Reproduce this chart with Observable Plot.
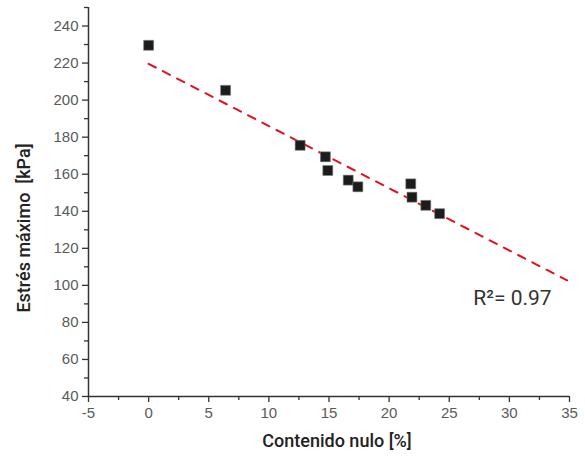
<!DOCTYPE html>
<html>
<head>
<meta charset="utf-8">
<script src="https://cdn.jsdelivr.net/npm/d3@7"></script>
<script src="https://cdn.jsdelivr.net/npm/@observablehq/plot@0.6"></script>
<style>
  html, body { margin: 0; padding: 0; background: #fff; }
</style>
</head>
<body>
<div id="chart"></div>
<script>
// Data
const voidContent = [0, 6.4, 12.6, 14.7, 14.9, 16.6, 17.4, 21.8, 21.9, 23.05, 24.2];
const maxStress   = [229.6, 205.3, 175.6, 169.4, 162.0, 156.8, 153.2, 154.8, 147.6, 143.2, 138.7];

// Fitted line as drawn in the reference (endpoints)
const fitX = [0, 34.8];
const fitY = [219.6, 102.7];

const xTicks = [-5, 0, 5, 10, 15, 20, 25, 30, 35];
const xMinor = [-2.5, 2.5, 7.5, 12.5, 17.5, 22.5, 27.5, 32.5];
const yTicks = [40, 60, 80, 100, 120, 140, 160, 180, 200, 220, 240];
const yMinor = [50, 70, 90, 110, 130, 150, 170, 190, 210, 230, 250];

const xTitle = "Contenido nulo [%]";
const yTitle = "Estrés máximo  [kPa]";
const r2Label = "R²= 0.97";
const r2Pos = {x: 27, y: 93};

const points = voidContent.map((x, i) => ({x, y: maxStress[i]}));
const fit = fitX.map((x, i) => ({x, y: fitY[i]}));

const tickFont = "Liberation Sans, Arial, sans-serif";
const titleFont = "Roboto, sans-serif";

const chart = Plot.plot({
  width: 585,
  height: 460,
  marginLeft: 88,
  marginRight: 16,
  marginTop: 7,
  marginBottom: 64,
  style: {background: "#fff", overflow: "visible"},
  x: {domain: [-5, 35]},
  y: {domain: [40, 250]},
  marks: [
    Plot.axisX(xTicks, {tickSize: 6, tickPadding: 5, fontSize: 15, fontFamily: tickFont, fill: "#5a5a5a", stroke: "#333", strokeWidth: 1.3, tickFormat: d => String(d), label: null}),
    Plot.axisX(xMinor, {tickSize: 4, text: null, stroke: "#333", strokeWidth: 1.3, label: null}),
    Plot.axisY(yTicks, {tickSize: 6, tickPadding: 4, fontSize: 15, fontFamily: tickFont, fill: "#5a5a5a", stroke: "#333", strokeWidth: 1.3, tickFormat: d => String(d), label: null}),
    Plot.axisY(yMinor, {tickSize: 4, text: null, stroke: "#333", strokeWidth: 1.3, label: null}),
    Plot.ruleX([-5], {stroke: "#333", strokeWidth: 1.5}),
    Plot.ruleY([40], {stroke: "#333", strokeWidth: 1.5}),
    Plot.line(fit, {x: "x", y: "y", stroke: "#e3101f", strokeWidth: 2, strokeDasharray: "8,8"}),
    Plot.dot(points, {x: "x", y: "y", symbol: "square", r: 5.6, fill: "#1c1c1c", stroke: "#777", strokeWidth: 0.6}),
    Plot.text([r2Label], {x: r2Pos.x, y: r2Pos.y, text: d => d, textAnchor: "start", fontSize: 21, fontFamily: titleFont, fill: "#333"}),
    Plot.text([xTitle], {frameAnchor: "bottom", text: d => d, dx: 8, dy: 50, fontSize: 18, fontWeight: 500, fontFamily: titleFont, fill: "#222"}),
    Plot.text([yTitle], {frameAnchor: "left", textAnchor: "middle", lineAnchor: "middle", text: d => d, dx: -64, dy: 26, rotate: -90, fontSize: 18, fontWeight: 500, fontFamily: titleFont, fill: "#222"})
  ]
});
document.getElementById("chart").appendChild(chart);
</script>
</body>
</html>
